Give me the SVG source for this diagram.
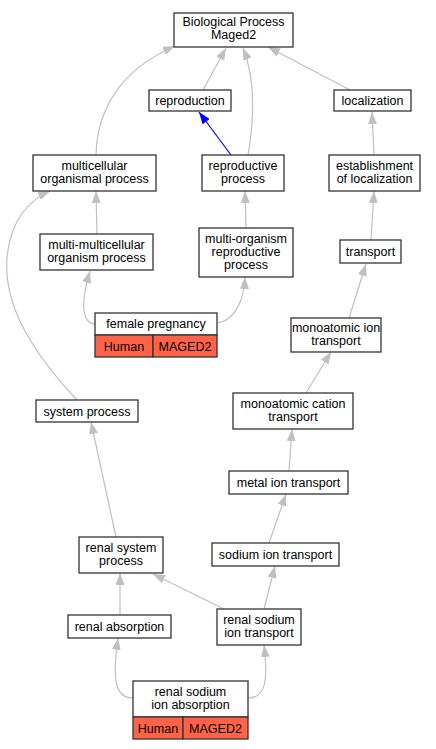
<svg xmlns="http://www.w3.org/2000/svg" width="436" height="749" viewBox="0 0 436 749">
<defs>
<style>
.n rect{fill:#fff;stroke:#333;stroke-width:1.3}
.n rect.r{fill:#ff6347}
text{font-family:"Liberation Sans",Arial,sans-serif;font-size:12.5px;text-anchor:middle;fill:#000}
.e path{fill:none;stroke:#c0c0c0;stroke-width:1.2;marker-end:url(#ag)}
.e path.b{stroke:#0000ff;marker-end:url(#ab)}
</style>
<marker id="ag" markerUnits="userSpaceOnUse" markerWidth="13" markerHeight="9" refX="12" refY="4.5" orient="auto"><path d="M0,0 L12,4.5 L0,9 z" fill="#c0c0c0"/></marker>
<marker id="ab" markerUnits="userSpaceOnUse" markerWidth="13" markerHeight="9" refX="12" refY="4.5" orient="auto"><path d="M0,0 L12,4.5 L0,9 z" fill="#0000ff"/></marker>
</defs>
<rect width="436" height="749" fill="#fff"/>
<g id="edges" class="e">
<path d="M203,90 L226,48"/>
<path d="M96,155 C97,110 120,70 175,46"/>
<path d="M248,155 C254,120 256,80 243,48"/>
<path d="M350,90 L268,47"/>
<path class="b" d="M231,155 L199,112"/>
<path d="M374,155 L372,112"/>
<path d="M97,234 L96,191"/>
<path d="M246,228 L245,191"/>
<path d="M371,240 L374,191"/>
<path d="M95,324 C82,323 80,305 90,271"/>
<path d="M217,323 C235,321 244,300 245,277"/>
<path d="M349,318 L366,264"/>
<path d="M77,400 C30,350 0,300 8,250 C13,218 30,200 50,191"/>
<path d="M306,393 L331,352"/>
<path d="M289,471 L292,429"/>
<path d="M116,537 L91,422"/>
<path d="M269,543 L286,494"/>
<path d="M120,615 L120,573"/>
<path d="M224,609 L153,574"/>
<path d="M264,609 L275,566"/>
<path d="M133,698 C115,698 112,680 118,638"/>
<path d="M248,698 C266,698 268,680 264,645"/>
</g>
<g id="bp" class="n"><rect x="174" y="13" width="119" height="34"/><text x="233.5" y="26">Biological Process</text><text x="233.5" y="39">Maged2</text></g>
<g id="reproduction" class="n"><rect x="149" y="90" width="82" height="21"/><text x="190" y="105">reproduction</text></g>
<g id="localization" class="n"><rect x="334" y="90" width="77" height="21"/><text x="372.5" y="105">localization</text></g>
<g id="multicellular" class="n"><rect x="33" y="155" width="123" height="36"/><text x="94.5" y="170">multicellular</text><text x="94.5" y="183">organismal process</text></g>
<g id="reproductive" class="n"><rect x="202" y="155" width="82" height="36"/><text x="243" y="170">reproductive</text><text x="243" y="183">process</text></g>
<g id="establishment" class="n"><rect x="329" y="155" width="91" height="36"/><text x="374.5" y="170">establishment</text><text x="374.5" y="183">of localization</text></g>
<g id="multimulti" class="n"><rect x="40" y="234" width="113" height="36"/><text x="96.5" y="249">multi-multicellular</text><text x="96.5" y="262">organism process</text></g>
<g id="multiorg" class="n"><rect x="199" y="228" width="94" height="49"/><text x="246" y="243">multi-organism</text><text x="246" y="256">reproductive</text><text x="246" y="269">process</text></g>
<g id="transport" class="n"><rect x="340" y="240" width="61" height="23"/><text x="370.5" y="256">transport</text></g>
<g id="female" class="n"><rect x="95" y="313" width="122" height="22"/><text x="156" y="328">female pregnancy</text><rect class="r" x="95" y="335" width="58" height="22"/><text x="124" y="350.5">Human</text><rect class="r" x="153" y="335" width="64" height="22"/><text x="185" y="350.5">MAGED2</text></g>
<g id="monoion" class="n"><rect x="291" y="318" width="90" height="34"/><text x="336" y="332">monoatomic ion</text><text x="336" y="345">transport</text></g>
<g id="system" class="n"><rect x="36" y="400" width="102" height="22"/><text x="87" y="415.5">system process</text></g>
<g id="cation" class="n"><rect x="233" y="393" width="120" height="36"/><text x="293" y="408">monoatomic cation</text><text x="293" y="421">transport</text></g>
<g id="metal" class="n"><rect x="229" y="471" width="119" height="23"/><text x="288.5" y="487">metal ion transport</text></g>
<g id="renalsys" class="n"><rect x="79" y="537" width="84" height="36"/><text x="121" y="552">renal system</text><text x="121" y="565">process</text></g>
<g id="sodium" class="n"><rect x="212" y="543" width="127" height="23"/><text x="275.5" y="559">sodium ion transport</text></g>
<g id="renalabs" class="n"><rect x="68" y="615" width="103" height="23"/><text x="119.5" y="631">renal absorption</text></g>
<g id="rsit" class="n"><rect x="217" y="609" width="84" height="36"/><text x="259" y="624">renal sodium</text><text x="259" y="637">ion transport</text></g>
<g id="rsia" class="n"><rect x="133" y="681" width="115" height="36"/><text x="190.5" y="696">renal sodium</text><text x="190.5" y="709">ion absorption</text><rect class="r" x="133" y="717" width="50" height="22"/><text x="158" y="732.5">Human</text><rect class="r" x="183" y="717" width="65" height="22"/><text x="215.5" y="732.5">MAGED2</text></g>
</svg>
